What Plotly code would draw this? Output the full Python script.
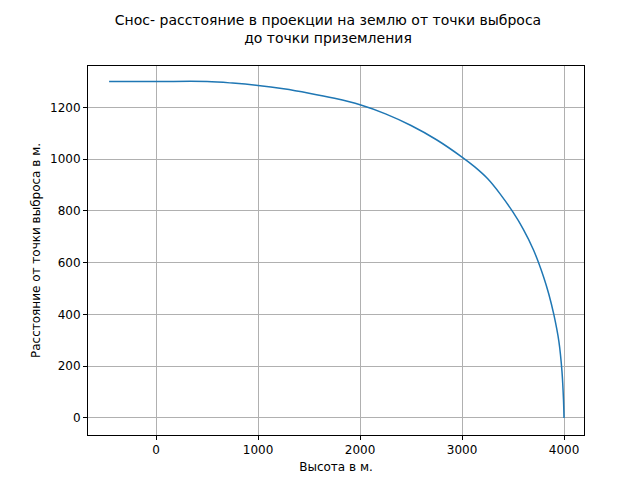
import plotly.graph_objects as go

# height (m) vs drift distance (m)
height = [-460, 0, 500, 750, 1000, 1250, 1500, 1750, 2000, 2250, 2500, 2750, 3000,
          3125, 3250, 3375, 3500, 3600, 3700, 3800, 3850, 3900, 3950, 3980, 3995, 4000]
drift = [1300, 1300, 1300, 1294, 1285, 1272, 1255, 1235, 1210, 1175, 1130, 1075, 1008,
         970, 925, 865, 795, 730, 650, 545, 480, 400, 295, 180, 70, 0]

fig = go.Figure(go.Scatter(x=height, y=drift, mode="lines", line_shape="spline",
                           line=dict(color="#1f77b4", width=1.5)))

axis = dict(showgrid=True, gridcolor="#b0b0b0", gridwidth=0.8, zeroline=False,
            showline=True, linecolor="black", mirror=True, ticks="outside",
            ticklen=4, tickcolor="black", tickfont=dict(size=12, color="black"),
            automargin=False)

fig.update_layout(
    width=640, height=480, template="plotly_white",
    paper_bgcolor="white", plot_bgcolor="white",
    font=dict(family="DejaVu Sans", color="black"),
    margin=dict(l=80, r=64, t=58, b=53),
    showlegend=False,
    title=dict(text="Снос- расстояние в проекции на землю от точки выброса<br>до точки приземления",
               x=0.5, xanchor="center", y=0.965, yanchor="top", font=dict(size=14),
               automargin=False),
    xaxis=dict(axis, range=[-667, 4196], tickvals=[0, 1000, 2000, 3000, 4000],
               title=dict(text="Высота в м.", font=dict(size=12), standoff=6)),
    yaxis=dict(axis, range=[-66, 1360], tickvals=[0, 200, 400, 600, 800, 1000, 1200],
               title=dict(text="Расстояние от точки выброса в м.", font=dict(size=12), standoff=6)),
)

fig.write_html("out.html")
